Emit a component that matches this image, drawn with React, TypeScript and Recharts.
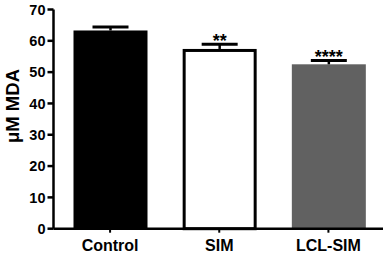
import React from 'react';
import { BarChart, Bar, XAxis, YAxis, Label } from 'recharts';

const categories = ['Control', 'SIM', 'LCL-SIM'];
const meanValues = [63.3, 57.4, 52.5];
const errorValues = [1.1, 1.5, 1.2];
const significance = ['', '**', '****'];
const yTicks = [0, 10, 20, 30, 40, 50, 60, 70];

const data = categories.map((name, i) => ({
  name,
  value: meanValues[i],
  err: errorValues[i],
  sig: significance[i],
}));

const FONT = '"Liberation Sans", Arial, Helvetica, sans-serif';
const barFills = ['#000000', '#ffffff', '#616161'];
const barStrokes = ['none', '#000000', 'none'];
const barStrokeWidths = [0, 3, 0];

function MeanBar(props: any) {
  const { x, y, width, height, payload, index } = props;
  const unit = height / payload.value;
  const capY = y - payload.err * unit;
  const cx = x + width / 2;
  const sw = barStrokeWidths[index];
  return (
    <g>
      <rect
        x={x + sw / 2}
        y={y + sw / 2}
        width={width - sw}
        height={height - sw / 2}
        fill={barFills[index]}
        stroke={barStrokes[index]}
        strokeWidth={sw}
      />
      <line x1={cx} x2={cx} y1={y} y2={capY} stroke="#000" strokeWidth={2.5} />
      <line x1={cx - 18} x2={cx + 18} y1={capY} y2={capY} stroke="#000" strokeWidth={3} />
      {payload.sig ? (
        <text
          x={cx}
          y={capY + 2.5}
          textAnchor="middle"
          fontFamily={FONT}
          fontWeight="bold"
          fontSize={18}
          fill="#000"
        >
          {payload.sig}
        </text>
      ) : null}
    </g>
  );
}

export default function App() {
  return (
    <div style={{ position: 'absolute', left: 0, top: 0, background: '#fff' }}>
      <BarChart
        width={387}
        height={256}
        data={data}
        margin={{ top: 9.5, right: 4, bottom: 0, left: 0 }}
        barSize={74}
      >
        <XAxis
          dataKey="name"
          height={27.3}
          padding={{ left: 2, right: 0 }}
          axisLine={{ stroke: '#000', strokeWidth: 2.5 }}
          tickLine={{ stroke: '#000', strokeWidth: 2 }}
          tickSize={4}
          tickMargin={7}
          tick={{ fill: '#000', fontSize: 16, fontWeight: 'bold', fontFamily: FONT }}
          interval={0}
        />
        <YAxis
          width={53.5}
          domain={[0, 70]}
          ticks={yTicks}
          interval={0}
          axisLine={{ stroke: '#000', strokeWidth: 2.5 }}
          tickLine={{ stroke: '#000', strokeWidth: 2.5 }}
          tickSize={6}
          tickMargin={2}
          tick={{ fill: '#000', fontSize: 14.5, fontWeight: 'bold', fontFamily: FONT }}
        >
          <Label
            content={() => (
              <text
                x={12}
                y={106}
                transform="rotate(-90, 12, 106)"
                textAnchor="middle"
                dominantBaseline="central"
                fontFamily={FONT}
                fontWeight="bold"
                fontSize={18.5}
                fill="#000"
              >
                μM MDA
              </text>
            )}
          />
        </YAxis>
        <Bar dataKey="value" shape={MeanBar} isAnimationActive={false} />
      </BarChart>
    </div>
  );
}
